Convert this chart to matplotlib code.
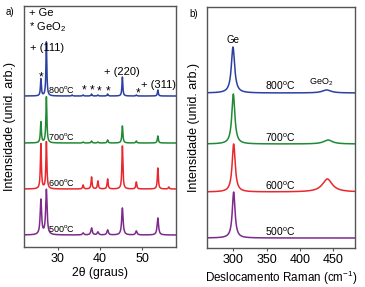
import numpy as np
import matplotlib
matplotlib.use("Agg")
import matplotlib.pyplot as plt

plt.rcParams['font.family'] = ['Liberation Sans', 'DejaVu Sans']
plt.rcParams['mathtext.fontset'] = 'custom'
plt.rcParams['mathtext.rm'] = 'Liberation Sans'
plt.rcParams['mathtext.it'] = 'Liberation Sans:italic'
plt.rcParams['mathtext.bf'] = 'Liberation Sans:bold'

# ---------------- data ----------------
temps = ["500", "600", "700", "800"]
colors = ["#7d2a8c", "#e8282c", "#1f8a33", "#2b40a0"]

# XRD (panel a): peak positions (2theta, degrees)
xrd_pos = [26.0, 27.3, 33.4, 36.0, 38.0, 39.5, 41.8, 45.3, 48.6, 53.7, 56.3]
# peak heights per temperature (arb.)
xrd_h_500 = [35, 45, 0, 2, 7, 3, 5, 27, 4, 17, 0]
xrd_h_600 = [45, 47, 0, 4, 12, 8, 10, 43, 7, 21, 2]
xrd_h_700 = [21, 46, 0, 1, 2, 1, 3, 17, 2, 7, 0]
xrd_h_800 = [17, 54, 1, 1, 2, 1, 2, 19, 1, 6, 0]
xrd_fwhm = [0.40, 0.28, 0.28, 0.25]
xrd_offsets = [12, 58, 104, 151]

# Raman (panel b): Ge peak and GeO2 band
raman_pos_ge = [300.5, 300.5, 300.0, 299.5]
raman_h_ge = [46, 48, 50, 46]
raman_w_ge = [5.0, 5.5, 5.5, 6.0]
raman_pos_geo2 = [440, 441, 442, 440]
raman_h_geo2 = [0, 13, 4, 3]
raman_w_geo2 = [15, 18, 16, 16]
raman_offsets = [10, 56, 104, 155]

xrd_ticks = [30, 40, 50]
raman_ticks = [300, 350, 400, 450]


def lorentz(x, x0, h, w):
    return h / (1 + ((x - x0) / (w / 2)) ** 2)


fig = plt.figure(figsize=(3.65, 2.87), dpi=100)
W, H = 365, 287


def ax_box(x0, y0, x1, y1):
    return [x0 / W, 1 - y1 / H, (x1 - x0) / W, (y1 - y0) / H]


axa = fig.add_axes(ax_box(24, 6, 176, 247))
axb = fig.add_axes(ax_box(207, 7, 355, 248))

# ---- panel a ----
x = np.linspace(22, 58, 4000)
heights = [xrd_h_500, xrd_h_600, xrd_h_700, xrd_h_800]
for i in range(4):
    y = np.full_like(x, xrd_offsets[i], dtype=float)
    for p, h in zip(xrd_pos, heights[i]):
        if h > 0:
            y += lorentz(x, p, h, xrd_fwhm[i])
    axa.plot(x, y, color=colors[i], lw=1.1)
    axa.text(30.8, xrd_offsets[i] + 1, temps[i] + r"$^\mathrm{o}$C",
             fontsize=6.5, ha="center", va="bottom")

axa.set_xlim(22, 58)
axa.set_ylim(0, 241)
axa.set_xticks(xrd_ticks)
axa.set_yticks([])
axa.set_xlabel("2θ (graus)", fontsize=8.8, labelpad=1.5)
axa.set_ylabel("Intensidade (unid. arb.)", fontsize=9, labelpad=6)

axa.text(23.2, 234, "+ Ge", fontsize=8, va="center", ha="left")
axa.text(23.2, 220, r"* GeO$_2$", fontsize=8, va="center", ha="left")
axa.text(27.4, 199, "+ (111)", fontsize=8, va="center", ha="center")
axa.text(45.2, 175, "+ (220)", fontsize=8, va="center", ha="center")
axa.text(53.8, 162, "+ (311)", fontsize=8, va="center", ha="center")
for sx, sy in [(26.0, 170), (36.3, 157), (38.1, 157), (39.7, 156), (41.8, 156), (48.9, 154)]:
    axa.text(sx, sy, "*", fontsize=8.5, ha="center", va="center")

# ---- panel b ----
xr = np.linspace(258, 485, 3000)
for i in range(4):
    y = np.full_like(xr, raman_offsets[i], dtype=float)
    y += lorentz(xr, raman_pos_ge[i], raman_h_ge[i], raman_w_ge[i])
    if raman_h_geo2[i] > 0:
        y += lorentz(xr, raman_pos_geo2[i], raman_h_geo2[i], raman_w_geo2[i])
    axb.plot(xr, y, color=colors[i], lw=1.1)
    axb.text(370, raman_offsets[i] + 0.5, temps[i] + r"$^\mathrm{o}$C",
             fontsize=7.5, ha="center", va="bottom")

axb.text(300, 208, "Ge", fontsize=7, ha="center", va="center")
axb.text(432, 166, r"GeO$_2$", fontsize=6.5, ha="center", va="center")

axb.set_xlim(260.5, 482.5)
axb.set_ylim(0, 241)
axb.set_xticks(raman_ticks)
axb.set_yticks([])
axb.set_xlabel(r"Deslocamento Raman (cm$^{-1}$)", fontsize=8.4, labelpad=1.5)
axb.set_ylabel("Intensidade (unid. arb.)", fontsize=9, labelpad=5)

for ax in (axa, axb):
    for s in ax.spines.values():
        s.set_color("#555555")
        s.set_linewidth(1.0)
    ax.tick_params(axis="x", labelsize=9, length=2.5, width=0.8,
                   color="#555555", pad=2)

fig.text(6 / W, 1 - 12 / H, "a)", fontsize=7, ha="left", va="center")
fig.text(189 / W, 1 - 14 / H, "b)", fontsize=7, ha="left", va="center")

fig.savefig("out.png", dpi=100)
